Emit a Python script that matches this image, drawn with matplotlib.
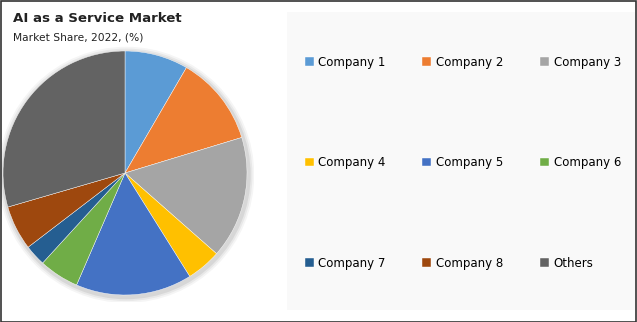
import matplotlib
matplotlib.use("Agg")
import matplotlib.pyplot as plt
from matplotlib.patches import Rectangle, Circle

# shares, clockwise from 12 o'clock
labels = ["Company 1", "Company 2", "Company 3", "Company 4", "Company 5",
          "Company 6", "Company 7", "Company 8", "Others"]
shares = [8.4, 11.9, 16.2, 4.6, 15.4, 5.3, 2.8, 5.9, 29.5]
colors = ["#5B9BD5", "#ED7D31", "#A5A5A5", "#FFC000", "#4472C4",
          "#70AD47", "#255E91", "#9E480E", "#636363"]

W, H = 637, 322
fig = plt.figure(figsize=(W / 100, H / 100), dpi=100)
fig.patch.set_facecolor("white")

# outer border
fig.add_artist(Rectangle((0.5 / W, 0.5 / H), 1 - 1.5 / W, 1 - 1.5 / H,
                         transform=fig.transFigure, fill=False,
                         edgecolor="#333333", linewidth=1.2))

# legend panel
fig.add_artist(Rectangle((287 / W, (H - 310) / H), 348 / W, 298 / H,
                         transform=fig.transFigure, facecolor="#f9f9f9",
                         edgecolor="none", zorder=0))

fig.text(13 / W, 1 - 19 / H, "AI as a Service Market", fontsize=9.6,
         fontweight="bold", va="center", ha="left", color="#222222")
fig.text(13 / W, 1 - 38 / H, "Market Share, 2022, (%)", fontsize=7.7,
         va="center", ha="left", color="#222222")

cx, cy, r = 125, 173, 122
pad = 1.06
ax = fig.add_axes([(cx - r * pad) / W, (H - cy - r * pad) / H,
                   2 * r * pad / W, 2 * r * pad / H])
# soft glow behind the pie
for k, a in [(1.05, 0.04), (1.035, 0.05), (1.02, 0.07)]:
    ax.add_patch(Circle((0.01, -0.015), k, facecolor="black", alpha=a,
                        edgecolor="none", zorder=0))
wedges, _ = ax.pie(shares, colors=colors, startangle=90, counterclock=False,
                   wedgeprops=dict(edgecolor="white", linewidth=0.3))
ax.set_xlim(-pad, pad)
ax.set_ylim(-pad, pad)
ax.set_aspect("equal")
ax.axis("off")

# legend fills column by column, so reorder to read row by row
order = [0, 3, 6, 1, 4, 7, 2, 5, 8]
fig.legend([wedges[i] for i in order], [labels[i] for i in order],
           loc="upper left", bbox_to_anchor=(299 / W, 1 - 50 / H),
           ncol=3, frameon=False, fontsize=8.5,
           handlelength=0.75, handleheight=0.75, handletextpad=0.4,
           columnspacing=3.1, labelspacing=7.4, borderpad=0)

fig.savefig("out.png", dpi=100)
